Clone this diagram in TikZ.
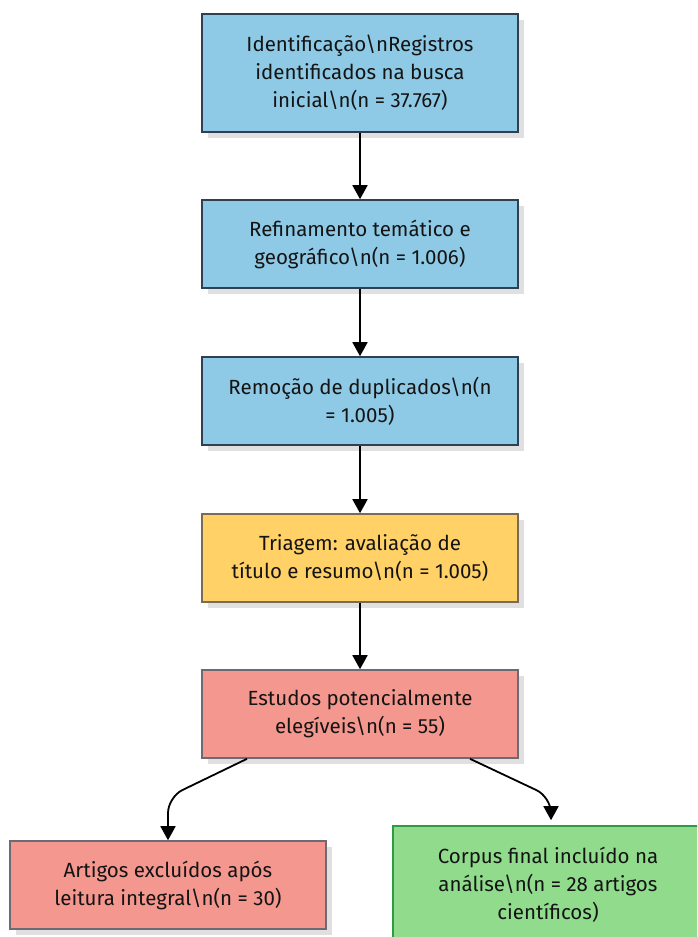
\documentclass[tikz,border=0pt]{standalone}
\usepackage{fontspec}
\setmainfont{Fira Sans}
\usetikzlibrary{calc,shadows,arrows.meta}
\definecolor{idblue}{HTML}{8ECAE6}
\definecolor{idedge}{HTML}{2F4052}
\definecolor{triyellow}{HTML}{FFD166}
\definecolor{triedge}{HTML}{7A6B58}
\definecolor{elired}{HTML}{F4978E}
\definecolor{eliedge}{HTML}{6E6A74}
\definecolor{fingreen}{HTML}{90DB8C}
\definecolor{finedge}{HTML}{2E9B43}
\tikzset{%
stage/.style={draw=idedge,fill=idblue,line width=1.6pt,minimum width=316pt,
              minimum height=88pt,align=center,text=black!92,
              drop shadow={shadow xshift=6pt,shadow yshift=-6pt,fill=black!12,opacity=1},
              font=\fontsize{20.5}{28}\selectfont},
screen/.style={stage,draw=triedge,fill=triyellow},
eligible/.style={stage,draw=eliedge,fill=elired},
final/.style={stage,draw=finedge,fill=fingreen,minimum width=310pt,minimum height=118pt},
flow/.style={line width=1.8pt,-{Triangle[width=15pt,length=14pt]}},
}

\begin{document}
\begin{tikzpicture}[x=1pt,y=-1pt]
\clip (0,0) rectangle (697,937);

\node[stage,minimum height=118pt] (ident) at (360,73)
     {Identificação\textbackslash nRegistros\\identificados na busca\\inicial\textbackslash n(n = 37.767)};
\node[stage] (refine) at (360,244)
     {Refinamento temático e\\geográfico\textbackslash n(n = 1.006)};
\node[stage] (dup) at (360,401)
     {Remoção de duplicados\textbackslash n(n\\= 1.005)};
\node[screen] (triage) at (360,558)
     {Triagem: avaliação de\\título e resumo\textbackslash n(n = 1.005)};
\node[eligible] (elig) at (360,714)
     {Estudos potencialmente\\elegíveis\textbackslash n(n = 55)};
\node[eligible] (excl) at (168,885)
     {Artigos excluídos após\\leitura integral\textbackslash n(n = 30)};
\node[final] (corpus) at (548,885)
     {Corpus final incluído na\\análise\textbackslash n(n = 28 artigos\\científicos)};

\coordinate (bendl) at (168,797);
\coordinate (bendr) at (551,797);

\draw[flow] (ident) -- (refine);
\draw[flow] (refine) -- (dup);
\draw[flow] (dup) -- (triage);
\draw[flow] (triage) -- (elig);
\draw[flow,rounded corners=16pt] ($(elig.south)+(-113,0)$) -- (bendl) -- (excl.north);
\draw[flow,rounded corners=16pt,shorten >=5pt] ($(elig.south)+(110,0)$) -- (bendr) -- (bendr |- corpus.north);
\end{tikzpicture}
\end{document}
